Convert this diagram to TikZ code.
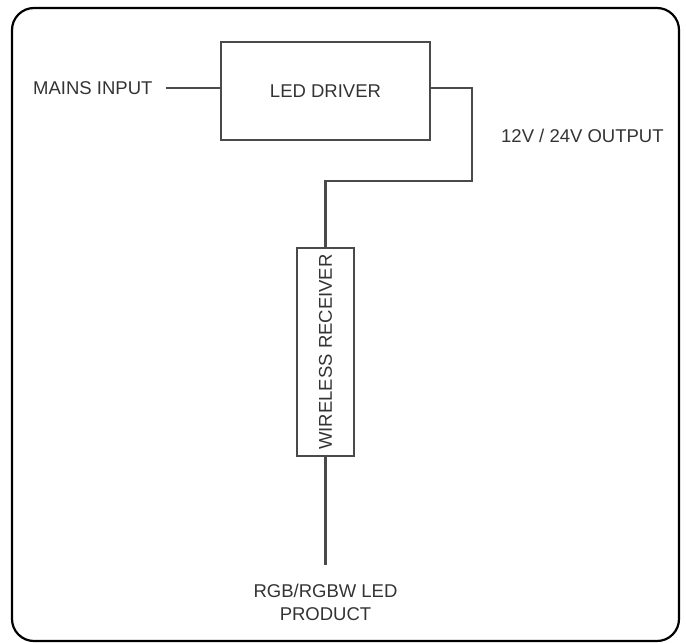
\documentclass[tikz,border=0pt]{standalone}
\usepackage{fontspec}
\setmainfont{Liberation Sans}
\definecolor{wiregray}{HTML}{4A4A4A}
\definecolor{inkgray}{HTML}{333333}
\begin{document}
\begin{tikzpicture}[
    x=1pt, y=-1pt,
    every node/.style={font=\fontsize{18.5}{23}\selectfont, text=inkgray},
    unitbox/.style={draw=wiregray, line width=2.5pt, inner sep=0pt},
    label/.style={inner sep=0pt},
    wire/.style={draw=wiregray, line width=2.5pt}
]
\useasboundingbox (0,0) rectangle (686,643);
\draw[line width=2.2pt, rounded corners=22pt] (12,8) rectangle (679,641);

\node[unitbox, minimum width=209pt, minimum height=98pt] (driver) at (325.5,91) {LED DRIVER};
\node[unitbox, minimum width=208pt, minimum height=57pt, rotate=90] (receiver) at (325.5,352) {WIRELESS RECEIVER};

\node[label, anchor=west] (mains) at (33,88) {MAINS INPUT};
\node[label, anchor=west] (output) at (501,135.5) {12V / 24V OUTPUT};
\node[label, align=center] (product) at (325.5,602) {RGB/RGBW LED\\PRODUCT};

\coordinate (turn) at (472,181);

\draw[wire, shorten <=13pt] (mains.east) -- ([yshift=3pt]driver.west);
\draw[wire] ([yshift=3pt]driver.east) -| (turn) -| (receiver.east);
\draw[wire, shorten >=19pt] (receiver.west) -- (product.north);
\end{tikzpicture}
\end{document}
